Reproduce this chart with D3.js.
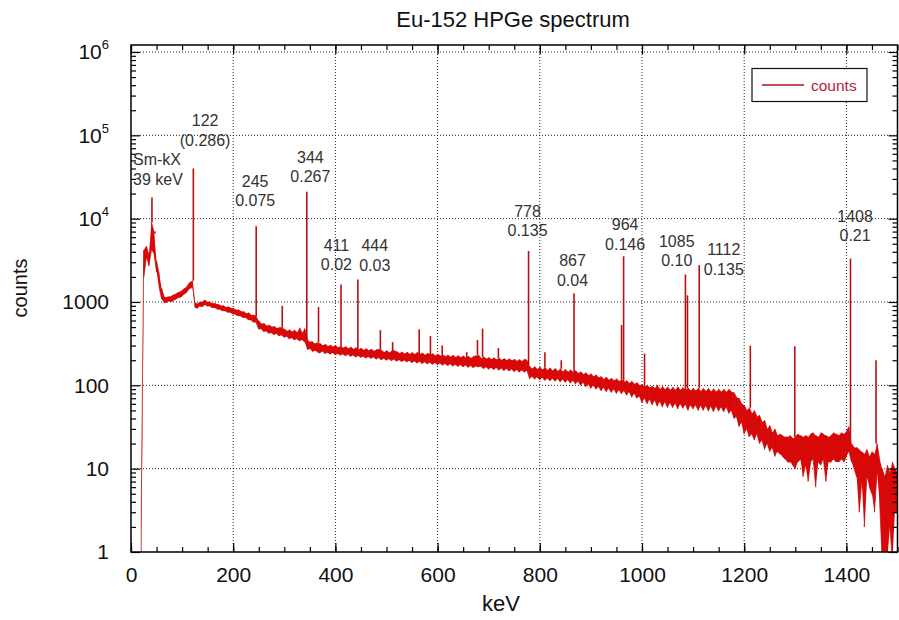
<!DOCTYPE html>
<html>
<head>
<meta charset="utf-8">
<script src="https://cdn.jsdelivr.net/npm/d3@7"></script>
<style>
body{margin:0;background:#fff}
svg{display:block;font-family:"Liberation Sans",Arial,sans-serif}
</style>
</head>
<body>
<svg width="899" height="620"></svg>
<script>
//energy bins of the continuum, 5 keV wide, starting at 20 keV
var binStart = 20, binStep = 5;

//lower edge of the noisy continuum band (counts)
var bandLow = [
  0.8, 2000, 3400, 2700, 4200, 3800, 2300, 1500, 1080, 980,
  990, 1020, 1010, 1060, 1100, 1130, 1170, 1250, 1330, 1450,
  1500, 860, 840, 890, 880, 930, 890, 885, 850, 845,
  815, 805, 780, 775, 750, 745, 715, 705, 680, 675,
  645, 645, 610, 605, 570, 565, 470, 475, 440, 445,
  420, 425, 405, 415, 390, 400, 375, 385, 360, 370,
  350, 360, 340, 350, 330, 270, 275, 255, 262, 250,
  245, 256, 240, 248, 236, 246, 232, 240, 230, 236,
  226, 234, 222, 230, 218, 226, 216, 222, 212, 220,
  210, 218, 206, 214, 202, 210, 200, 207, 197, 205,
  194, 202, 192, 200, 190, 197, 186, 195, 184, 193,
  182, 190, 180, 188, 178, 186, 176, 184, 174, 182,
  172, 180, 170, 178, 168, 176, 166, 174, 164, 172,
  162, 170, 166, 168, 158, 166, 156, 164, 154, 162,
  152, 160, 150, 158, 148, 156, 146, 154, 144, 152,
  144, 150, 120, 128, 118, 126, 116, 124, 114, 122,
  113, 121, 112, 120, 110, 118, 108, 117, 106, 114,
  104, 112, 100, 108, 96, 104, 92, 100, 90, 96,
  86, 94, 84, 92, 82, 90, 80, 88, 79, 86,
  76, 84, 72, 80, 70, 74, 62, 70, 60, 68,
  58, 66, 56, 64, 55, 63, 54, 62, 54, 61,
  52, 60, 53, 59, 50, 58, 52, 58, 50, 57,
  50, 57, 49, 56, 48, 56, 49, 55, 48, 55,
  46, 50, 40, 42, 32, 36, 26, 30, 24, 26,
  22, 26, 20, 22, 17, 20, 16, 18, 14, 16,
  15, 14, 13, 12, 12, 11, 10, 12, 13, 8,
  11, 7, 12, 13, 6, 12, 11, 13, 7, 12,
  12, 13, 12, 12, 13, 12, 14, 16, 12, 10,
  8, 3, 7, 2, 8, 6, 5, 3, 9, 4,
  0.8, 0.8, 0.8, 2, 0.8, 3, 3
];

//upper edge of the noisy continuum band (counts)
var bandHigh = [
  3, 4200, 4700, 3700, 9000, 7000, 3100, 2200, 1450, 1150,
  1140, 1160, 1190, 1230, 1280, 1320, 1380, 1460, 1560, 1720,
  1800, 990, 950, 1000, 1010, 1060, 1000, 1000, 960, 960,
  940, 905, 910, 870, 880, 845, 840, 805, 810, 775,
  770, 735, 745, 700, 700, 675, 595, 550, 555, 520,
  530, 505, 510, 485, 495, 490, 475, 450, 465, 440,
  460, 430, 490, 425, 480, 360, 330, 335, 315, 325,
  318, 300, 312, 295, 305, 290, 300, 285, 296, 282,
  292, 276, 288, 272, 284, 268, 280, 265, 276, 262,
  272, 258, 268, 270, 264, 250, 262, 248, 258, 262,
  255, 242, 252, 240, 250, 238, 248, 236, 250, 238,
  245, 232, 242, 236, 240, 228, 236, 226, 234, 222,
  232, 220, 230, 218, 228, 216, 226, 214, 224, 212,
  222, 226, 232, 212, 220, 208, 216, 206, 214, 204,
  212, 202, 210, 200, 208, 198, 206, 196, 204, 194,
  206, 200, 170, 158, 168, 156, 166, 154, 164, 152,
  162, 150, 160, 148, 158, 146, 156, 145, 154, 144,
  150, 140, 146, 136, 142, 132, 138, 128, 134, 124,
  128, 118, 126, 116, 122, 114, 120, 112, 118, 110,
  114, 106, 112, 104, 108, 100, 102, 96, 100, 94,
  98, 92, 100, 90, 97, 89, 96, 88, 95, 88,
  96, 88, 94, 87, 93, 86, 92, 86, 92, 85,
  92, 85, 92, 84, 91, 84, 90, 84, 90, 83,
  90, 84, 82, 72, 70, 60, 58, 50, 54, 46,
  50, 42, 44, 36, 38, 30, 33, 27, 30, 25,
  26, 25, 24, 24, 25, 23, 24, 26, 25, 24,
  25, 24, 26, 27, 25, 24, 27, 26, 25, 24,
  25, 27, 26, 25, 27, 26, 28, 32, 20, 18,
  18, 17, 16, 15, 17, 14, 16, 15, 20, 13,
  10, 8, 11, 9, 12, 10, 9
];

//gamma lines and small peaks (keV, peak counts)
var peakKeV =    [41, 47, 122, 245, 296, 344, 367, 411, 444, 488, 512, 564, 586, 609, 657, 678, 688, 719, 778, 810, 842, 867, 960, 964, 1005, 1085, 1089, 1112, 1212, 1299, 1408, 1458];
var peakCounts = [18000, 6700, 40000, 8100, 900, 21000, 870, 1620, 1860, 460, 330, 470, 390, 300, 250, 350, 480, 280, 4100, 250, 200, 1270, 530, 3540, 240, 2140, 1200, 2770, 300, 295, 3330, 200];

//annotation texts
var labelTop =    ["Sm-kX", "122", "245", "344", "411", "444", "778", "867", "964", "1085", "1112", "1408"];
var labelBottom = ["39 keV", "(0.286)", "0.075", "0.267", "0.02", "0.03", "0.135", "0.04", "0.146", "0.10", "0.135", "0.21"];
//where the first line of each label sits (keV, counts)
var labelKeV =    [4, 145, 243, 351, 402, 477, 776, 864, 967, 1068, 1160, 1417];
var labelCounts = [44000, 129000, 24200, 47000, 4130, 4090, 10600, 2700, 7300, 4610, 3660, 9200];

//axis ticks
var xMajor = [0, 200, 400, 600, 800, 1000, 1200, 1400];
var xMinor = d3.range(0, 1501, 50);
var yMajor = [1, 10, 100, 1000, 1e4, 1e5, 1e6];

var svg = d3.select("svg");
//plot box (note: "top" is taken by window.top, so use other names)
var plotLeft = 131, plotRight = 897.5, plotTop = 45, plotBottom = 552;

var x = d3.scaleLinear().domain([0, 1500]).range([plotLeft, plotRight]);
var y = d3.scaleLog().domain([1, 1e6]).range([552, 52]);

var yMinor = [];
yMajor.slice(0, -1).forEach(function(d){
  for (var m = 2; m <= 9; m++) yMinor.push(d * m);
});

//dotted grid
var grid = svg.append("g").attr("stroke", "#222").attr("stroke-width", 1).attr("stroke-dasharray", "1,2");
xMajor.slice(1).forEach(function(v){
  grid.append("line").attr("x1", x(v)).attr("x2", x(v)).attr("y1", plotTop).attr("y2", plotBottom);
});
yMajor.slice(1).forEach(function(v){
  grid.append("line").attr("x1", plotLeft).attr("x2", plotRight).attr("y1", y(v)).attr("y2", y(v));
});

//spectrum
svg.append("clipPath").attr("id", "plotClip")
  .append("rect").attr("x", plotLeft).attr("y", plotTop)
  .attr("width", plotRight - plotLeft).attr("height", plotBottom - plotTop);

var bins = bandLow.map(function(lo, i){
  return {e: binStart + i * binStep, lo: lo, hi: bandHigh[i]};
});

var spec = svg.append("g").attr("clip-path", "url(#plotClip)");

var area = d3.area()
  .x(function(d){ return x(d.e); })
  .y0(function(d){ return y(d.lo); })
  .y1(function(d){ return y(d.hi); });

spec.append("path").datum(bins)
  .attr("d", area)
  .attr("fill", "#e00808");

//zig-zag through the band edges so it looks like a dense spectrum
var zig = [];
bins.forEach(function(d, i){
  if (i % 2 == 0) { zig.push([d.e, d.lo]); zig.push([d.e, d.hi]); }
  else { zig.push([d.e, d.hi]); zig.push([d.e, d.lo]); }
});
spec.append("path").datum(zig)
  .attr("d", d3.line().x(function(d){ return x(d[0]); }).y(function(d){ return y(d[1]); }))
  .attr("fill", "none")
  .attr("stroke", "#c40c0c")
  .attr("stroke-width", 0.7);

//peaks as spikes standing on the band
peakKeV.forEach(function(e, i){
  var idx = Math.round((e - binStart) / binStep);
  idx = Math.max(0, Math.min(bins.length - 1, idx));
  var base = bins[idx].hi;
  spec.append("line")
    .attr("x1", x(e)).attr("x2", x(e))
    .attr("y1", y(base)).attr("y2", y(peakCounts[i]))
    .attr("stroke", "#b81010")
    .attr("stroke-width", 1.6);
});

//axes, all ticks pointing inward
function cleanAxis(g){
  g.select(".domain").remove();
  g.selectAll(".tick line").attr("stroke", "#000").attr("stroke-width", 1.2);
}

svg.append("g").attr("transform", "translate(0," + plotBottom + ")")
  .call(d3.axisBottom(x).tickValues(xMinor).tickSize(-5).tickFormat(""))
  .call(cleanAxis);
svg.append("g").attr("transform", "translate(0," + plotBottom + ")")
  .call(d3.axisBottom(x).tickValues(xMajor).tickSize(-9).tickPadding(15).tickFormat(d3.format("d")))
  .call(cleanAxis)
  .selectAll("text").attr("font-size", 21).attr("fill", "#111").attr("font-family", "Liberation Sans, Arial, sans-serif");

svg.append("g").attr("transform", "translate(0," + plotTop + ")")
  .call(d3.axisTop(x).tickValues(xMinor).tickSize(-5).tickFormat(""))
  .call(cleanAxis);
svg.append("g").attr("transform", "translate(0," + plotTop + ")")
  .call(d3.axisTop(x).tickValues(xMajor).tickSize(-9).tickFormat(""))
  .call(cleanAxis);

svg.append("g").attr("transform", "translate(" + plotLeft + ",0)")
  .call(d3.axisLeft(y).tickValues(yMinor).tickSize(-5).tickFormat(""))
  .call(cleanAxis);
var yAxisG = svg.append("g").attr("transform", "translate(" + plotLeft + ",0)")
  .call(d3.axisLeft(y).tickValues(yMajor).tickSize(-9).tickPadding(22).tickFormat(""))
  .call(cleanAxis);

svg.append("g").attr("transform", "translate(" + plotRight + ",0)")
  .call(d3.axisRight(y).tickValues(yMinor).tickSize(-5).tickFormat(""))
  .call(cleanAxis);
svg.append("g").attr("transform", "translate(" + plotRight + ",0)")
  .call(d3.axisRight(y).tickValues(yMajor).tickSize(-9).tickFormat(""))
  .call(cleanAxis);

//y labels: plain up to 1000, then powers of ten
yAxisG.selectAll(".tick text").each(function(d){
  var t = d3.select(this).attr("font-size", 21).attr("fill", "#111")
    .attr("font-family", "Liberation Sans, Arial, sans-serif");
  var p = Math.round(Math.log10(d));
  if (p <= 3) {
    t.text(String(d));
  } else {
    t.text(null);
    t.append("tspan").text("10");
    t.append("tspan").text(p).attr("font-size", 13).attr("dy", "-0.75em");
  }
});

//frame
svg.append("rect")
  .attr("x", plotLeft).attr("y", plotTop).attr("width", plotRight - plotLeft).attr("height", plotBottom - plotTop)
  .attr("fill", "none").attr("stroke", "#000").attr("stroke-width", 1.5);

//peak annotations
var ann = svg.append("g").attr("font-size", 16).attr("fill", "#333");
labelTop.forEach(function(t, i){
  var anchor = i == 0 ? "start" : "middle";
  var tx = x(labelKeV[i]), ty = y(labelCounts[i]);
  ann.append("text").attr("x", tx).attr("y", ty).attr("text-anchor", anchor).text(t);
  ann.append("text").attr("x", tx).attr("y", ty + 19.5).attr("text-anchor", anchor).text(labelBottom[i]);
});

//legend
var leg = svg.append("g");
leg.append("rect").attr("x", 752).attr("y", 68.5).attr("width", 115).attr("height", 33)
  .attr("fill", "#fff").attr("stroke", "#111").attr("stroke-width", 1.2);
leg.append("line").attr("x1", 762).attr("x2", 804).attr("y1", 85).attr("y2", 85)
  .attr("stroke", "#b01025").attr("stroke-width", 1.3);
leg.append("text").attr("x", 811).attr("y", 91).attr("font-size", 15.5).attr("fill", "#b4243a").text("counts");

//titles
svg.append("text").attr("x", 513).attr("y", 27).attr("text-anchor", "middle")
  .attr("font-size", 22).attr("fill", "#111").text("Eu-152 HPGe spectrum");
svg.append("text").attr("x", 501).attr("y", 611).attr("text-anchor", "middle")
  .attr("font-size", 22).attr("fill", "#111").text("keV");
svg.append("text").attr("transform", "translate(27,288) rotate(-90)").attr("text-anchor", "middle")
  .attr("font-size", 20).attr("fill", "#111").text("counts");
</script>
</body>
</html>
